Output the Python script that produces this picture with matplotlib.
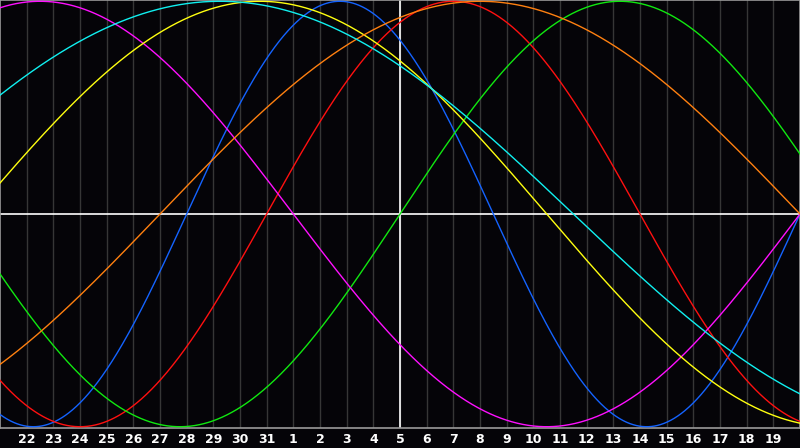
import numpy as np
import matplotlib
matplotlib.use("Agg")
import matplotlib.pyplot as plt

# day labels along the bottom (one per grid line)
day_labels = [22, 23, 24, 25, 26, 27, 28, 29, 30, 31,
              1, 2, 3, 4, 5, 6, 7, 8, 9, 10, 11, 12, 13, 14, 15, 16, 17, 18, 19]

# cycles: period in days and day index of the rising zero crossing
cycle_names = ["physical", "emotional", "intellectual", "intuitive",
               "aesthetic", "awareness", "spiritual"]
cycle_periods = [23, 28, 33, 38, 43, 48, 53]
cycle_zero_day = [7, 10, 15, 30, -1, 6, -5]
cycle_colors = ["#1463ff", "#ff1010", "#10e810", "#ff10ff",
                "#ffff10", "#ff8010", "#10f0f0"]

BG = "#050408"
n_days = len(day_labels) + 1  # 30 spans

fig = plt.figure(figsize=(8, 4.48), dpi=100, facecolor=BG)
ax = fig.add_axes([0, 1 - 428 / 448, 1, 428 / 448])
ax.set_facecolor(BG)
ax.set_xlim(0, n_days)
ax.set_ylim(-1.006, 1.006)

# grid
for i in range(1, n_days):
    ax.axvline(i, color="#363636", lw=1, zorder=1)
ax.axhline(0, color="white", lw=1.2, zorder=2)
ax.axvline(n_days / 2, color="white", lw=1.2, zorder=2)

t = np.linspace(0, n_days, 1600)
for name, per, z, col in zip(cycle_names, cycle_periods, cycle_zero_day, cycle_colors):
    ax.plot(t, np.sin(2 * np.pi * (t - z) / per), color=col, lw=1, zorder=3, label=name)

for side in ["left", "top", "right", "bottom"]:
    ax.spines[side].set_color("#9a9a9a")
    ax.spines[side].set_linewidth(1.2)
ax.set_xticks([])
ax.set_yticks([])

# day labels under the plot
for i, d in enumerate(day_labels, start=1):
    fig.text(i / n_days, 1 - 439 / 448, str(d), color="white", fontsize=9,
             fontweight="bold", ha="center", va="center", family="DejaVu Sans")

fig.savefig("out.png", dpi=100, facecolor=BG)
